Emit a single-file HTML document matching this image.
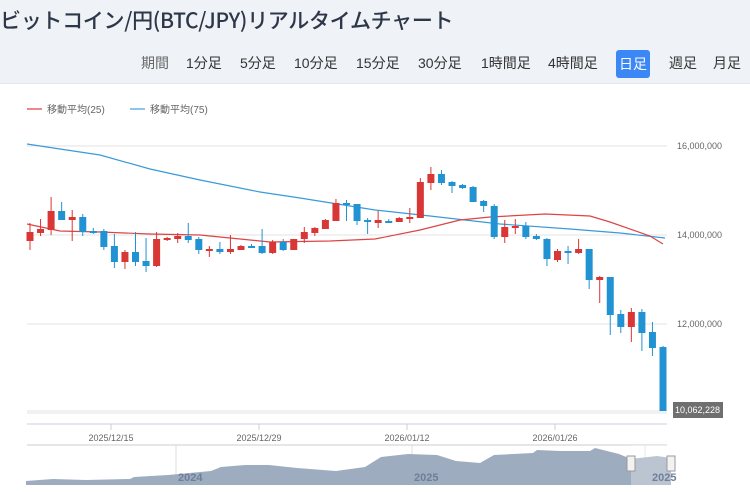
<!DOCTYPE html>
<html><head><meta charset="utf-8"><style>
body{margin:0;width:750px;height:492px;overflow:hidden;background:#fff;font-family:"Liberation Sans","Noto Sans CJK JP",sans-serif}
.hd{position:absolute;left:0;top:0;width:750px;height:83px;background:#eff2f7;border-bottom:1px solid #e3e6ea}
.t{position:absolute;left:0;top:5px;font-size:21px;color:#2d3748;font-weight:500;letter-spacing:-0.3px;font-family:"Noto Sans CJK JP",sans-serif}
.b{position:absolute;top:54px;font-size:14px;color:#333;line-height:18px}
.sel{background:#3b87f5;color:#fff;border-radius:3px;padding:5px 3px;top:50px}
</style></head><body>
<div class="hd">
<div class="t">ビットコイン/円(BTC/JPY)リアルタイムチャート</div>
<span class="b" style="left:141px;color:#666">期間</span>
<span class="b" style="left:186px">1分足</span>
<span class="b" style="left:240px">5分足</span>
<span class="b" style="left:294px">10分足</span>
<span class="b" style="left:356px">15分足</span>
<span class="b" style="left:418px">30分足</span>
<span class="b" style="left:481px">1時間足</span>
<span class="b" style="left:548px">4時間足</span>
<span class="b sel" style="left:616px">日足</span>
<span class="b" style="left:669px">週足</span>
<span class="b" style="left:713px">月足</span>
</div>
<svg width="750" height="492" style="position:absolute;left:0;top:0" id="s">
<g font-size="10" fill="#666">
<line x1="27" y1="109" x2="42" y2="109" stroke="#e88" stroke-width="2"/><text x="47" y="113">移動平均(25)</text>
<line x1="130" y1="109" x2="145" y2="109" stroke="#8cc6ec" stroke-width="2"/><text x="150" y="113">移動平均(75)</text>
</g>
<g stroke="#e3e3e3"><line x1="27" y1="146" x2="667" y2="146"/><line x1="27" y1="235" x2="667" y2="235"/><line x1="27" y1="324" x2="667" y2="324"/><line x1="27" y1="411" x2="667" y2="411"/><line x1="27" y1="413" x2="667" y2="413"/></g>
<g font-size="9" fill="#666"><text x="677" y="149">16,000,000</text><text x="677" y="238">14,000,000</text><text x="677" y="327">12,000,000</text></g>
<rect x="673" y="402" width="50" height="16" fill="#6f6f6f"/><text x="675" y="413" font-size="9" fill="#fff">10,062,228</text>
<polyline fill="none" stroke="#3a9ad9" stroke-width="1.2" points="27,144 60,149 100,155 150,169 200,180 260,192 300,198 350,206 375,210 430,216 500,224 570,229 620,233 665,238"/>
<polyline fill="none" stroke="#dd4444" stroke-width="1.2" points="27,224 60,231 100,232 150,234 200,235 270,242 330,241 375,239 420,230 460,220 490,217 545,214 590,216 610,222 650,236 663,244"/>
<g id="c"></g>
<line x1="27" y1="424" x2="667" y2="424" stroke="#ccd"/>
<g stroke="#ccd"><line x1="111" y1="424" x2="111" y2="430"/><line x1="259" y1="424" x2="259" y2="430"/><line x1="407" y1="424" x2="407" y2="430"/><line x1="555" y1="424" x2="555" y2="430"/></g>
<g font-size="9" fill="#666" text-anchor="middle"><text x="111" y="441">2025/12/15</text><text x="259" y="441">2025/12/29</text><text x="407" y="441">2026/01/12</text><text x="555" y="441">2026/01/26</text></g>
<line x1="27" y1="445" x2="667" y2="445" stroke="#ccc"/>
<line x1="176" y1="445" x2="176" y2="485" stroke="#ddd"/><line x1="412" y1="445" x2="412" y2="485" stroke="#ddd"/><line x1="645" y1="445" x2="645" y2="485" stroke="#ddd"/>
<polygon fill="#9eacbf" points="26,485 26,481 53,479 86,480 130,479 134,477 168,475 211,471 221,467 245,465 269,465 297,468 336,471 365,467 381,457 408,454 437,455 456,461 480,463 494,455 533,453 537,450 560,451 590,451 595,448 619,454 631,459 657,456 671,458 671,485"/>
<rect x="631" y="445" width="40" height="40" fill="#fff" opacity="0.3"/>
<g font-size="11" fill="#6e7f99" font-weight="bold"><text x="178" y="481">2024</text><text x="414" y="481">2025</text><text x="652" y="481">2025</text></g>
<rect x="627" y="456" width="8" height="15" fill="#f2f2f2" stroke="#999"/><rect x="667" y="456" width="8" height="15" fill="#f2f2f2" stroke="#999"/>
</svg>
<script>
var d=[[232,241,223,250,1],[229,233,219,236,1],[211,230,197,235,1],[211,220,202,220,0],[217,220,210,241,1],[217,232,214,236,0],[231,233,228,234,0],[231,247,229,250,0],[246,262,234,268,0],[252,262,250,269,1],[252,262,232,266,0],[261,266,238,272,0],[239,266,232,267,1],[238,240,237,241,1],[236,239,233,243,1],[236,240,223,243,0],[239,250,237,254,0],[249,250,246,257,1],[249,252,242,254,0],[249,252,235,254,1],[246,250,245,250,1],[246,247,244,248,0],[246,253,229,254,0],[242,253,240,254,1],[242,250,239,251,0],[239,250,239,250,1],[232,239,227,243,1],[228,233,227,236,1],[220,229,219,229,1],[203,221,199,221,1],[203,205,200,221,0],[204,221,204,225,0],[220,222,218,234,0],[220,223,211,228,1],[221,222,219,223,0],[218,222,217,222,1],[217,219,208,223,1],[182,218,178,218,1],[174,183,167,190,1],[174,183,170,185,0],[182,186,181,193,0],[185,188,184,189,0],[187,202,186,202,0],[201,206,200,212,0],[206,237,204,239,0],[227,237,220,243,1],[226,228,219,234,1],[226,237,222,239,0],[236,239,234,240,0],[239,259,238,266,0],[251,260,249,262,1],[251,253,246,264,0],[249,253,239,254,1],[249,280,249,289,0],[277,280,276,303,1],[277,315,277,335,0],[314,327,310,333,0],[312,327,308,342,1],[312,333,309,351,0],[332,348,322,356,0],[347,411,346,411,0]];
var h='';d.forEach(function(c,i){var x=30+10.55*i,col=c[4]?'#d93636':'#2193d3';h+='<line x1="'+x+'" x2="'+x+'" y1="'+c[2]+'" y2="'+c[3]+'" stroke="'+col+'"/><rect x="'+(x-3.5)+'" y="'+c[0]+'" width="7" height="'+Math.max(2,c[1]-c[0])+'" fill="'+col+'"/>';});
document.getElementById('c').innerHTML=h;
</script>
</body></html>
